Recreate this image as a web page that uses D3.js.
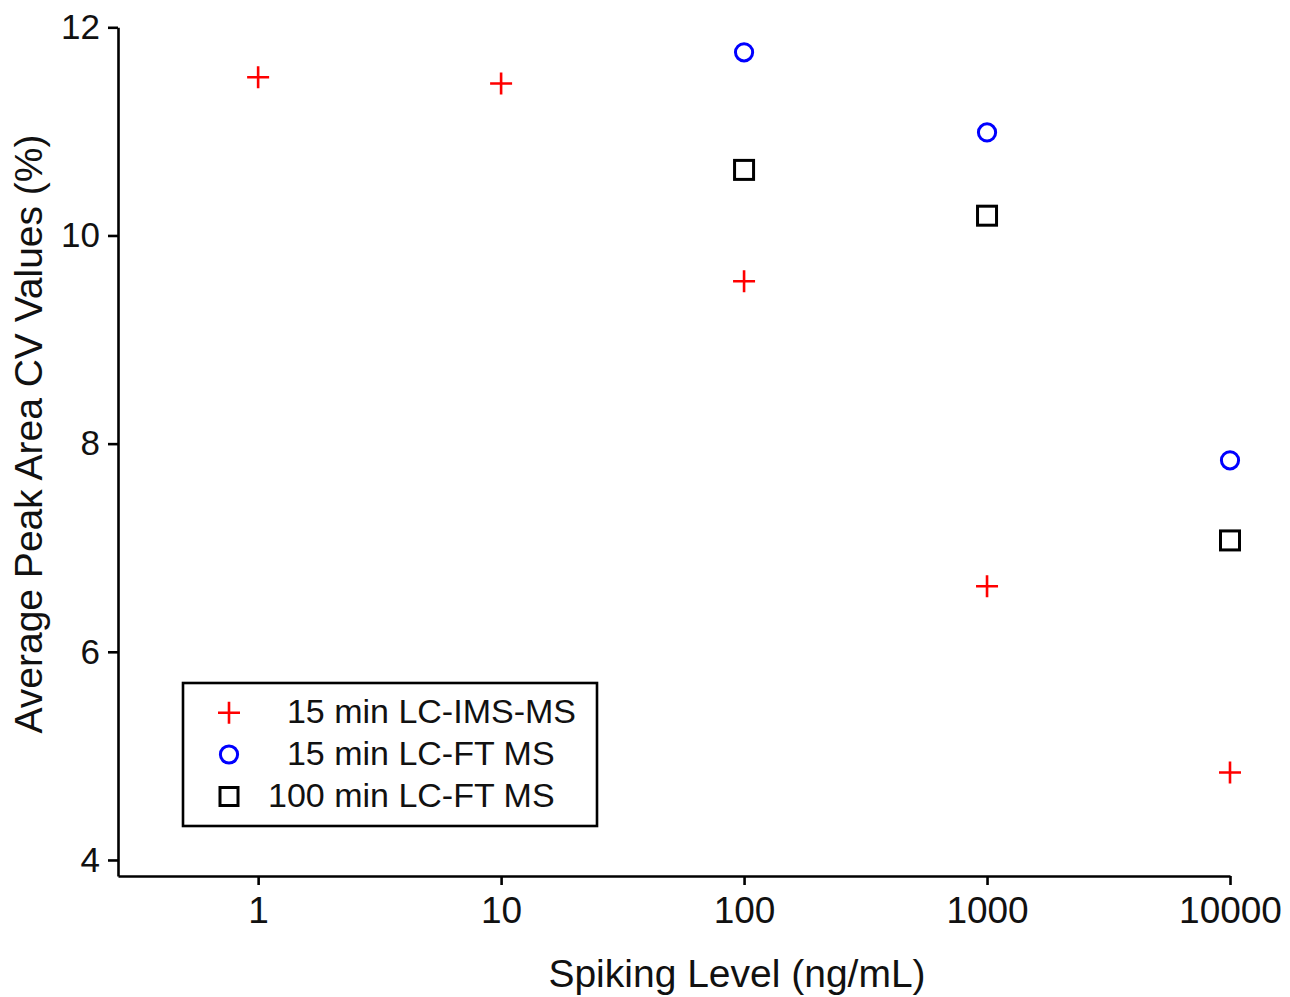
<!DOCTYPE html>
<html>
<head>
<meta charset="utf-8">
<script src="https://cdn.jsdelivr.net/npm/d3@7"></script>
<style>
  body { margin: 0; background: #fff; }
  svg { display: block; font-family: "Liberation Sans", Arial, sans-serif; }
</style>
</head>
<body>
<svg id="chart" width="1290" height="997"></svg>
<script>
// data
const spikeLevels = [1, 10, 100, 1000, 10000];
const imsValues   = [11.52, 11.46, 9.56, 6.63, 4.84];   // 15 min LC-IMS-MS
const ft15Levels  = [100, 1000, 10000];
const ft15Values  = [11.76, 10.99, 7.84];                // 15 min LC-FT MS
const ft100Levels = [100, 1000, 10000];
const ft100Values = [10.63, 10.19, 7.07];               // 100 min LC-FT MS
const yTicks = [4, 6, 8, 10, 12];
const xTicks = [1, 10, 100, 1000, 10000];
const legendNames = ["15 min LC-IMS-MS", "15 min LC-FT MS", "100 min LC-FT MS"];

const svg = d3.select("#chart");

// plot frame
const PLOT = { LEFT: 118, RIGHT: 1230, TOP: 27.3, BOTTOM: 876 };

const xScale = d3.scaleLog()
    .domain([0.265, 10000])
    .range([PLOT.LEFT, PLOT.RIGHT]);

const yScale = d3.scaleLinear()
    .domain([3.846, 12])
    .range([PLOT.BOTTOM, PLOT.TOP]);

// y axis
const yAxis = d3.axisLeft(yScale)
    .tickValues(yTicks)
    .tickFormat(d3.format("d"))
    .tickSize(10)
    .tickPadding(8)
    .tickSizeOuter(0);

const yg = svg.append("g")
    .attr("transform", "translate(" + PLOT.LEFT + ",0)")
    .call(yAxis);

// x axis
const xAxis = d3.axisBottom(xScale)
    .tickValues(xTicks)
    .tickFormat(d3.format("d"))
    .tickSize(9)
    .tickPadding(12)
    .tickSizeOuter(0);

const xg = svg.append("g")
    .attr("transform", "translate(0," + PLOT.BOTTOM + ")")
    .call(xAxis);

// style both axes
[xg, yg].forEach(function(g) {
  g.select(".domain").attr("stroke", "#000").attr("stroke-width", 2.6);
  g.selectAll(".tick line").attr("stroke", "#000").attr("stroke-width", 2.6);
  g.selectAll(".tick text").attr("fill", "#111").style("font-family", "'Liberation Sans', Arial, sans-serif");
});
xg.selectAll(".tick text").style("font-size", "37px");
yg.selectAll(".tick text").style("font-size", "35px");

// axis titles
svg.append("text")
    .attr("x", 737)
    .attr("y", 987)
    .attr("text-anchor", "middle")
    .attr("fill", "#111")
    .style("font-size", "39px")
    .text("Spiking Level (ng/mL)");

svg.append("text")
    .attr("transform", "translate(42,434) rotate(-90)")
    .attr("text-anchor", "middle")
    .attr("fill", "#111")
    .style("font-size", "39px")
    .text("Average Peak Area CV Values (%)");

// marker helpers
const plusPath = function(cx, cy, h) {
  return "M" + (cx - h) + "," + cy + "H" + (cx + h) + "M" + cx + "," + (cy - h) + "V" + (cy + h);
};

// red plus markers
svg.append("g").selectAll("path")
    .data(spikeLevels.map((x, i) => ({x: x, y: imsValues[i]})))
    .join("path")
    .attr("d", d => plusPath(xScale(d.x), yScale(d.y), 11))
    .attr("stroke", "#ff0000")
    .attr("stroke-width", 2.6)
    .attr("fill", "none");

// blue circles
svg.append("g").selectAll("circle")
    .data(ft15Levels.map((x, i) => ({x: x, y: ft15Values[i]})))
    .join("circle")
    .attr("cx", d => xScale(d.x))
    .attr("cy", d => yScale(d.y))
    .attr("r", 8.6)
    .attr("stroke", "#0000ff")
    .attr("stroke-width", 3)
    .attr("fill", "none");

// black squares
svg.append("g").selectAll("rect")
    .data(ft100Levels.map((x, i) => ({x: x, y: ft100Values[i]})))
    .join("rect")
    .attr("x", d => xScale(d.x) - 9.5)
    .attr("y", d => yScale(d.y) - 9.5)
    .attr("width", 19)
    .attr("height", 19)
    .attr("stroke", "#000")
    .attr("stroke-width", 3)
    .attr("fill", "none");

// legend
const legend = svg.append("g");
legend.append("rect")
    .attr("x", 183)
    .attr("y", 683)
    .attr("width", 414)
    .attr("height", 143)
    .attr("fill", "#fff")
    .attr("stroke", "#000")
    .attr("stroke-width", 2.6);

const rowY = [712.7, 754.5, 796.5];
const mx = 229;

legend.append("path")
    .attr("d", plusPath(mx, rowY[0], 11))
    .attr("stroke", "#ff0000").attr("stroke-width", 2.6).attr("fill", "none");
legend.append("circle")
    .attr("cx", mx).attr("cy", rowY[1]).attr("r", 8.6)
    .attr("stroke", "#0000ff").attr("stroke-width", 3).attr("fill", "none");
legend.append("rect")
    .attr("x", mx - 9).attr("y", rowY[2] - 9).attr("width", 18).attr("height", 18)
    .attr("stroke", "#000").attr("stroke-width", 3).attr("fill", "none");

// numbers are right-aligned in the original, pad with figure spaces
legend.selectAll("text.lbl")
    .data(legendNames)
    .join("text")
    .attr("class", "lbl")
    .attr("x", 268)
    .attr("y", (d, i) => rowY[i] + 10)
    .attr("fill", "#111")
    .style("font-size", "34px")
    .style("white-space", "pre")
    .text(function(d) {
      const num = d.split(" ")[0];
      return "\u2007".repeat(3 - num.length) + d;
    });
</script>
</body>
</html>
